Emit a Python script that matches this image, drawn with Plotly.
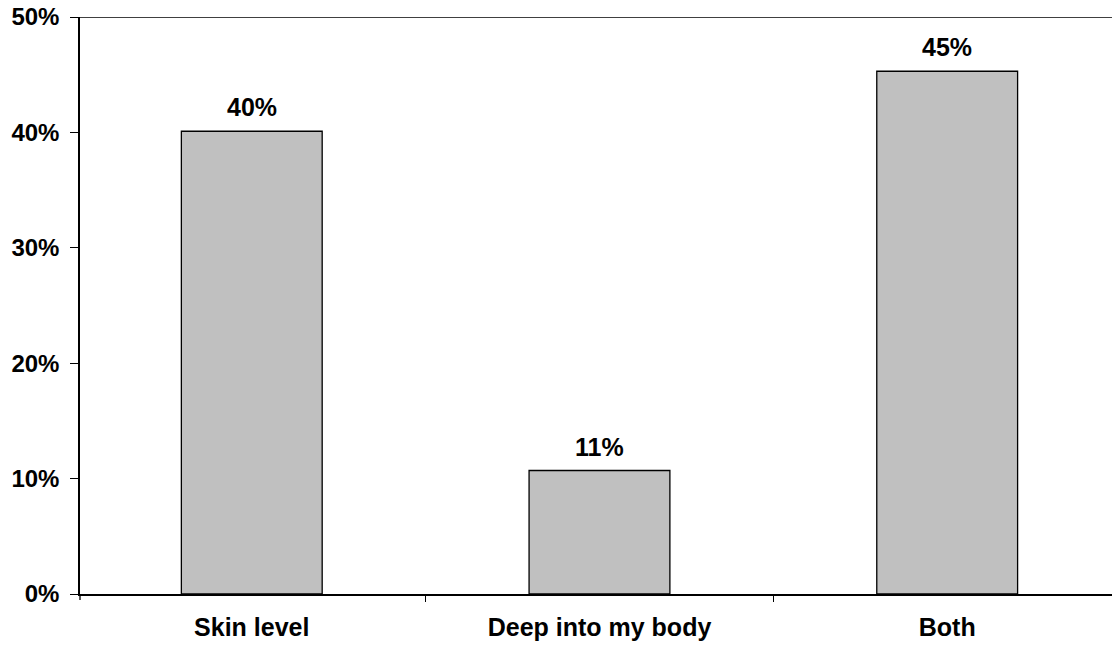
import plotly.graph_objects as go

categories = ["Skin level", "Deep into my body", "Both"]
shares = [0.401, 0.107, 0.453]
y_ticks = [0, 0.1, 0.2, 0.3, 0.4, 0.5]
y_tick_labels = ["0%", "10%", "20%", "30%", "40%", "50%"]

FONT = "Liberation Sans, Arial, sans-serif"
SIZE = 25
PLOT_H = 645 - 17 - 51

fig = go.Figure(
    go.Bar(
        x=categories,
        y=shares,
        width=0.405,
        marker=dict(color="#C0C0C0", line=dict(color="black", width=1.3)),
    )
)

# value labels sitting a little above each bar
for cat, val in zip(categories, shares):
    fig.add_annotation(
        x=cat, y=val, text=f"{val:.0%}",
        showarrow=False, yanchor="bottom", yshift=8,
        font=dict(family=FONT, size=SIZE, color="black", weight="bold"),
    )

fig.update_layout(
    width=1112,
    height=645,
    margin=dict(l=80, r=0, t=17, b=51),
    paper_bgcolor="white",
    plot_bgcolor="white",
    showlegend=False,
    font=dict(family=FONT, size=SIZE, color="black", weight="bold"),
    xaxis=dict(
        range=[-0.494, 2.474],
        automargin=False,
        showline=True,
        linecolor="black",
        linewidth=1.5,
        ticks="outside",
        tickson="boundaries",
        ticklen=6,
        tickwidth=1.3,
        tickcolor="black",
        showgrid=False,
        zeroline=False,
        ticklabelstandoff=10,
        tickfont=dict(family=FONT, size=25, color="black", weight="bold"),
    ),
    yaxis=dict(
        range=[0, 0.5],
        automargin=False,
        tickvals=y_ticks,
        ticktext=y_tick_labels,
        showline=True,
        linecolor="black",
        linewidth=1.5,
        ticks="outside",
        ticklen=8,
        tickwidth=1.3,
        tickcolor="black",
        showgrid=False,
        zeroline=False,
        ticklabelstandoff=6,
        tickfont=dict(family=FONT, size=24, color="black", weight="bold"),
    ),
    shapes=[
        # top border line at 50%
        dict(
            type="line", xref="paper", yref="y",
            x0=0, x1=1, y0=0.5, y1=0.5,
            line=dict(color="black", width=1.5),
        ),
        # small downward tick at the left end of the category axis
        dict(
            type="line", xref="paper", yref="paper",
            x0=0, x1=0, y0=0, y1=-6 / PLOT_H,
            line=dict(color="black", width=1.3),
        ),
    ],
)

fig.write_html("out.html")
